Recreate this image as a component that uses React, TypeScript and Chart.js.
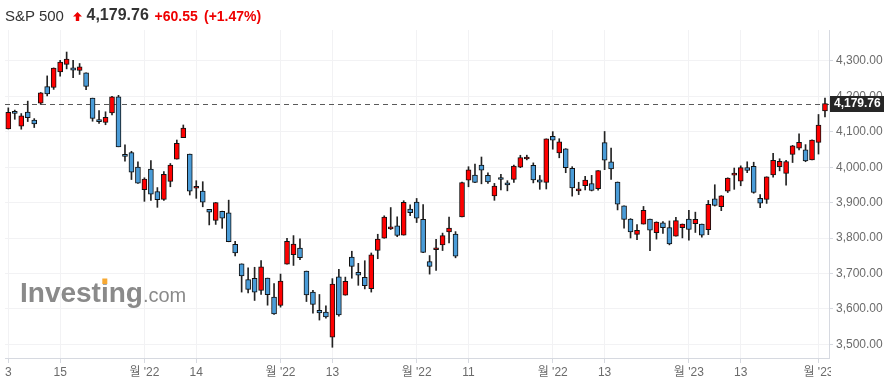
import React, { useEffect, useRef } from "react";
import { Chart, registerables } from "chart.js";

Chart.register(...registerables);

// Daily S&P 500 candles, 3 Aug 2022 – 2 Feb 2023
const opens = [
  4107.96, 4154.85, 4115.87, 4155.93, 4133.11, 4181.02, 4227.4, 4225.02, 4269.37, 4290.46,
  4280.4, 4273.13, 4266.31, 4195.08, 4133.09, 4126.55, 4153.26, 4198.74, 4034.58, 4041.25,
  4000.67, 3936.73, 3994.66, 3930.89, 3909.43, 3959.94, 4022.94, 4083.67, 4037.12, 3940.73,
  3932.41, 3880.95, 3849.91, 3875.23, 3871.4, 3782.36, 3727.14, 3682.72, 3686.44, 3651.94,
  3687.01, 3633.48, 3609.78, 3726.46, 3753.25, 3771.97, 3706.74, 3647.51, 3595.86, 3590.83,
  3520.37, 3690.41, 3638.65, 3746.26, 3703.11, 3689.05, 3657.1, 3764.98, 3799.44, 3825.97,
  3834.69, 3808.26, 3881.85, 3901.79, 3852.9, 3733.25, 3766.98, 3780.71, 3817.02, 3810.94,
  3859.89, 3963.72, 3977.97, 4006.41, 3976.82, 3919.26, 3966.39, 3956.23, 3965.51, 4000.3,
  4023.34, 4005.36, 3964.19, 3957.18, 4087.14, 4040.17, 4052.02, 3996.63, 3933.28, 3947.79,
  3954.17, 3939.29, 4069.38, 4015.54, 3958.37, 3890.91, 3853.79, 3810.47, 3839.49, 3853.26,
  3815.11, 3843.34, 3829.56, 3805.45, 3829.06, 3853.29, 3840.36, 3839.74, 3823.37, 3910.82,
  3888.57, 3932.35, 3977.57, 3960.6, 3999.28, 4002.25, 3911.84, 3909.04, 3978.14, 4001.74,
  3982.71, 4036.08, 4053.72, 4049.27, 4020.85, 4070.07, 4158.68,
];
const highs = [
  4167.66, 4161.29, 4151.58, 4186.62, 4137.3, 4211.03, 4257.91, 4280.47, 4301.79, 4325.28,
  4302.18, 4292.87, 4266.31, 4195.08, 4159.77, 4156.56, 4200.54, 4203.04, 4062.99, 4044.98,
  4015.37, 3970.23, 4018.43, 3942.55, 3987.89, 4010.5, 4076.81, 4119.28, 4037.12, 3961.94,
  3959.14, 3880.95, 3900.45, 3876.01, 3907.07, 3790.73, 3727.14, 3715.67, 3717.53, 3736.74,
  3687.01, 3671.44, 3698.35, 3799.57, 3806.91, 3797.93, 3706.74, 3652.17, 3640.66, 3608.34,
  3685.41, 3712.0, 3689.73, 3762.79, 3728.58, 3736.0, 3757.89, 3810.73, 3862.85, 3886.15,
  3859.95, 3905.42, 3893.73, 3911.79, 3894.44, 3750.59, 3796.34, 3813.95, 3859.4, 3818.2,
  3958.33, 4001.48, 4008.97, 4028.84, 3983.96, 3954.33, 3979.89, 3962.0, 4005.88, 4033.78,
  4034.02, 4012.27, 3976.77, 4080.11, 4100.51, 4080.48, 4052.45, 4001.51, 3957.57, 3974.19,
  3977.02, 3990.71, 4100.96, 4053.76, 3958.37, 3890.91, 3854.86, 3838.24, 3889.28, 3853.26,
  3845.8, 3846.65, 3848.32, 3858.19, 3839.74, 3878.46, 3873.16, 3839.74, 3906.19, 3950.57,
  3919.83, 3970.07, 3997.76, 4003.95, 4015.39, 4014.16, 3922.94, 3972.96, 4039.31, 4023.92,
  4019.55, 4061.57, 4094.21, 4063.85, 4077.16, 4148.95, 4195.44,
];
const lows = [
  4107.96, 4135.42, 4107.31, 4128.97, 4112.09, 4177.26, 4201.41, 4219.78, 4256.9, 4277.77,
  4253.08, 4261.98, 4218.7, 4129.86, 4124.03, 4119.97, 4147.59, 4057.66, 4017.42, 3965.21,
  3954.53, 3903.65, 3906.21, 3886.75, 3906.03, 3944.81, 4022.94, 4083.67, 3921.54, 3912.16,
  3888.28, 3837.08, 3838.5, 3827.54, 3789.49, 3749.45, 3647.47, 3644.76, 3623.76, 3640.61,
  3610.4, 3584.13, 3604.93, 3726.46, 3722.66, 3739.22, 3620.73, 3588.1, 3568.45, 3573.86,
  3491.58, 3579.68, 3638.65, 3686.53, 3666.51, 3656.44, 3647.42, 3741.65, 3799.44, 3824.07,
  3803.79, 3808.26, 3863.18, 3843.8, 3758.68, 3698.15, 3708.84, 3764.7, 3786.28, 3744.22,
  3859.89, 3944.82, 3956.4, 3953.17, 3954.34, 3906.54, 3935.98, 3933.34, 3956.88, 3998.66,
  4020.76, 3955.77, 3937.65, 3938.58, 4050.87, 4026.63, 3984.49, 3918.39, 3922.68, 3935.83,
  3933.04, 3935.3, 3993.03, 3965.65, 3879.45, 3827.91, 3800.04, 3795.62, 3839.49, 3764.49,
  3797.01, 3813.22, 3780.78, 3805.45, 3800.34, 3794.33, 3815.77, 3802.42, 3809.56, 3890.42,
  3877.29, 3928.54, 3937.56, 3947.67, 3984.57, 3926.59, 3885.54, 3897.86, 3971.64, 3989.79,
  3949.06, 4013.29, 4048.7, 4015.55, 4020.44, 4037.2, 4141.88,
];
const closes = [
  4155.17, 4151.94, 4145.19, 4140.06, 4122.47, 4210.24, 4207.27, 4280.15, 4297.14, 4305.2,
  4274.04, 4283.74, 4228.48, 4137.99, 4128.73, 4140.77, 4199.12, 4057.66, 4030.61, 3986.16,
  3955.0, 3966.85, 3924.26, 3908.19, 3979.87, 4006.18, 4067.36, 4110.41, 3932.69, 3946.01,
  3901.35, 3873.33, 3899.89, 3855.93, 3789.93, 3757.99, 3693.23, 3655.04, 3647.29, 3719.04,
  3640.47, 3585.62, 3678.43, 3790.93, 3783.28, 3744.52, 3639.66, 3612.39, 3588.84, 3577.03,
  3669.91, 3583.07, 3677.95, 3719.98, 3695.16, 3665.78, 3752.75, 3797.34, 3859.11, 3830.6,
  3807.3, 3901.06, 3871.98, 3856.1, 3759.69, 3719.89, 3770.55, 3806.8, 3828.11, 3748.57,
  3956.37, 3992.93, 3957.25, 3991.73, 3958.79, 3946.56, 3965.34, 3949.94, 4003.58, 4027.26,
  4026.12, 3963.94, 3957.63, 4080.11, 4076.57, 4071.7, 3998.84, 3941.26, 3933.92, 3963.51,
  3934.38, 3990.56, 4019.65, 3995.32, 3895.75, 3852.36, 3817.66, 3821.62, 3878.44, 3822.39,
  3844.82, 3829.25, 3783.22, 3849.28, 3839.5, 3824.14, 3852.97, 3808.1, 3895.08, 3892.09,
  3919.25, 3969.61, 3983.17, 3999.09, 3990.97, 3928.86, 3898.85, 3972.61, 4019.81, 4016.95,
  4016.22, 4060.43, 4070.56, 4017.77, 4076.6, 4119.21, 4179.76,
];

const tickIndex = [0, 8, 21, 29, 42, 50, 63, 71, 84, 92, 105, 113, 125];
const tickLabels = ["3", "15", "월 '22", "14", "월 '22", "13", "월 '22", "11", "월 '22", "13", "월 '23", "13", "월 '23"];
const yTicks = [3500, 3600, 3700, 3800, 3900, 4000, 4100, 4200, 4300];

const instrument = "S&P 500";

const FONT = "'Liberation Sans', Arial, 'Noto Sans CJK KR', sans-serif";
const UP = "#ff0000";
const DOWN = "#4a9cd8";
const TEXT_RED = "#ee0000";

const fmt = (v: number) =>
  v.toLocaleString("en-US", { minimumFractionDigits: 2, maximumFractionDigits: 2 });

const last = closes[closes.length - 1];
const prev = closes[closes.length - 2];
const change = last - prev;
const pct = (change / prev) * 100;

export default function App() {
  const ref = useRef<HTMLCanvasElement | null>(null);

  useEffect(() => {
    if (!ref.current) return;
    const colors = closes.map((c, i) => (c >= opens[i] ? UP : DOWN));

    const decor = {
      id: "decor",
      beforeDatasetsDraw(chart: any) {
        const { ctx, chartArea, scales } = chart;
        ctx.save();
        // watermark
        ctx.fillStyle = "#8a8a8a";
        ctx.textBaseline = "alphabetic";
        ctx.textAlign = "left";
        ctx.font = `bold 28px ${FONT}`;
        const wx = 20;
        const wy = 302;
        ctx.fillText("Investing", wx, wy);
        const wInv = ctx.measureText("Investing").width;
        const wInvest = ctx.measureText("Invest").width;
        const wI = ctx.measureText("i").width;
        ctx.fillStyle = "#f7a933";
        ctx.fillRect(wx + wInvest + wI / 2 - 2.5, 278.5, 5, 5.5);
        ctx.fillStyle = "#8a8a8a";
        ctx.font = `20px ${FONT}`;
        ctx.fillText(".com", wx + wInv, wy);
        // last price dashed line
        const y = Math.round(scales.y.getPixelForValue(last)) + 0.5;
        ctx.strokeStyle = "#5a5a5a";
        ctx.lineWidth = 1;
        ctx.setLineDash([5, 4]);
        ctx.beginPath();
        ctx.moveTo(chartArea.left, y);
        ctx.lineTo(chartArea.right, y);
        ctx.stroke();
        ctx.restore();
      },
      afterDraw(chart: any) {
        const { ctx, chartArea, scales } = chart;
        ctx.save();
        // clip x labels past the plot (axis column)
        ctx.fillStyle = "#ffffff";
        ctx.fillRect(chartArea.right + 2, chartArea.bottom + 1, 889 - chartArea.right, 40);
        // price tag
        const y = scales.y.getPixelForValue(last);
        ctx.fillStyle = "#262626";
        ctx.fillRect(chartArea.right + 1, Math.round(y) - 8, 54, 16);
        ctx.fillStyle = "#ffffff";
        ctx.font = `bold 12px ${FONT}`;
        ctx.textBaseline = "middle";
        ctx.textAlign = "left";
        ctx.fillText(fmt(last), chartArea.right + 5, Math.round(y));
        ctx.restore();
      },
    };

    const chart = new Chart(ref.current, {
      type: "bar",
      data: {
        datasets: [
          {
            label: "wick",
            data: opens.map((_, i) => ({ x: i, y: [lows[i], highs[i]] })) as any,
            backgroundColor: "#222222",
            borderWidth: 0,
            grouped: false,
            barPercentage: 1,
            categoryPercentage: 1,
            maxBarThickness: 1,
            order: 2,
          } as any,
          {
            label: "body",
            data: opens.map((o, i) => ({ x: i, y: [o, closes[i]] })) as any,
            backgroundColor: colors,
            borderColor: "#111111",
            borderWidth: 1,
            borderSkipped: false,
            grouped: false,
            barPercentage: 1,
            categoryPercentage: 1,
            maxBarThickness: 5,
            minBarLength: 2,
            order: 1,
          } as any,
        ],
      },
      options: {
        animation: false,
        responsive: false,
        events: [],
        layout: { padding: { left: 5, top: 30, right: 0, bottom: 0 } },
        plugins: {
          legend: { display: false },
          tooltip: { enabled: false },
        },
        scales: {
          x: {
            type: "linear",
            min: -0.51,
            max: 126.62,
            offset: false,
            afterBuildTicks: (s: any) => {
              s.ticks = tickIndex.map((v) => ({ value: v }));
            },
            afterFit: (s: any) => {
              s.height = 30;
            },
            ticks: {
              autoSkip: false,
              maxRotation: 0,
              minRotation: 0,
              callback: (_v: any, i: number) => tickLabels[i],
              color: "#6b6b6b",
              font: { family: FONT, size: 12 },
              padding: 2,
            },
            grid: { color: "#f2f2f4", tickColor: "#d6d9e0", tickLength: 5, offset: false },
            border: { color: "#d6d9e0" },
          },
          y: {
            position: "right",
            min: 3461.3,
            max: 4387.5,
            afterBuildTicks: (s: any) => {
              s.ticks = yTicks.map((v) => ({ value: v }));
            },
            afterFit: (s: any) => {
              s.width = 60;
            },
            ticks: {
              callback: (v: any) => fmt(Number(v)),
              color: "#6b6b6b",
              font: { family: FONT, size: 12 },
              padding: 3,
            },
            grid: { color: "#f2f2f4", tickColor: "#d6d9e0", tickLength: 4 },
            border: { color: "#d6d9e0" },
          },
        },
      } as any,
      plugins: [decor],
    });
    return () => chart.destroy();
  }, []);

  const base: React.CSSProperties = { position: "absolute", whiteSpace: "nowrap", fontFamily: FONT };

  return (
    <div style={{ position: "absolute", left: 0, top: 0, width: 889, height: 388, background: "#fff", overflow: "hidden" }}>
      <canvas ref={ref} width={889} height={388} style={{ position: "absolute", left: 0, top: 0, width: 889, height: 388 }} />
      <span style={{ ...base, left: 5, top: 8, fontSize: 15, lineHeight: "15px", color: "#333" }}>{instrument}</span>
      <svg style={{ position: "absolute", left: 72.5, top: 12 }} width={9} height={9} viewBox="0 0 9 9">
        <polygon points="4.5,0 9,4.6 6.2,4.6 6.2,9 2.8,9 2.8,4.6 0,4.6" fill={TEXT_RED} />
      </svg>
      <span style={{ ...base, left: 86.5, top: 7, fontSize: 16, lineHeight: "16px", fontWeight: "bold", color: "#333" }}>{fmt(last)}</span>
      <span style={{ ...base, left: 154.5, top: 8.5, fontSize: 14, lineHeight: "14px", fontWeight: "bold", color: TEXT_RED }}>
        {(change >= 0 ? "+" : "") + fmt(change)}
      </span>
      <span style={{ ...base, left: 204, top: 8.5, fontSize: 14, lineHeight: "14px", fontWeight: "bold", color: TEXT_RED }}>
        {"(" + (pct >= 0 ? "+" : "") + pct.toFixed(2) + "%)"}
      </span>
    </div>
  );
}
